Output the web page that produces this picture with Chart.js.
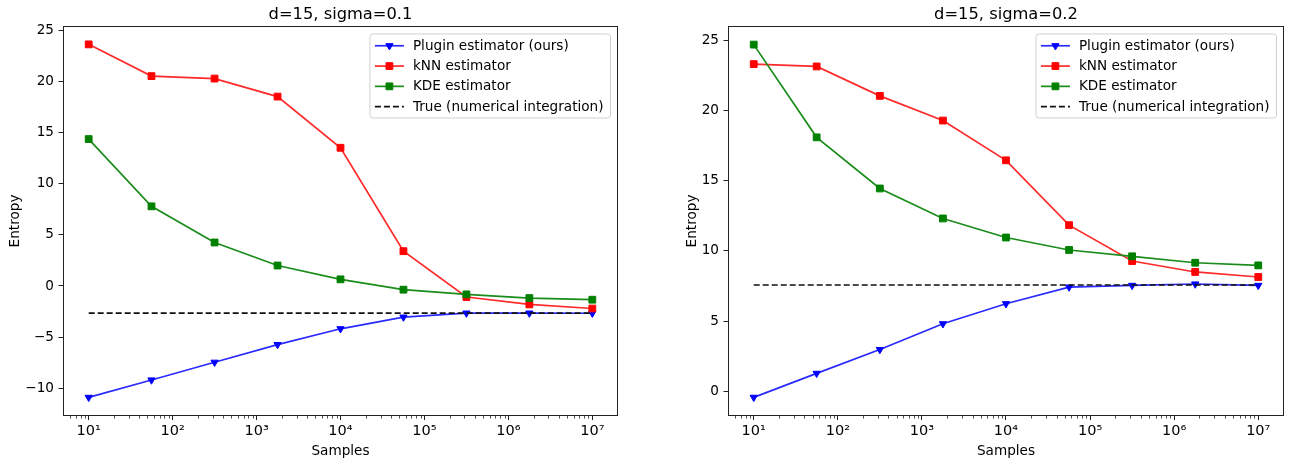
<!DOCTYPE html>
<html>
<head>
<meta charset="utf-8">
<script src="https://cdn.jsdelivr.net/npm/chart.js@4/dist/chart.umd.min.js"></script>
<style>
  body { margin: 0; background: #fff; }
  #wrap { position: relative; width: 1293px; height: 464px; }
  canvas { position: absolute; top: 0; }
</style>
</head>
<body>
<div id="wrap">
  <canvas id="chartA" width="646" height="464" style="left:0"></canvas>
  <canvas id="chartB" width="647" height="464" style="left:646px"></canvas>
</div>
<script>
// x values (logspace 10^1 .. 10^7, 9 points)
const samples = [10, 56, 316, 1778, 10000, 56234, 316228, 1778279, 10000000];
const seriesNames = ['Plugin estimator (ours)', 'kNN estimator', 'KDE estimator', 'True (numerical integration)'];

// d=15, sigma=0.1
const pluginA = [-10.88, -9.18, -7.45, -5.72, -4.18, -3.04, -2.65, -2.65, -2.66];
const knnA = [23.6, 20.5, 20.26, 18.5, 13.5, 3.4, -1.08, -1.8, -2.2];
const kdeA = [14.35, 7.78, 4.25, 2.0, 0.65, -0.36, -0.82, -1.18, -1.34];
const trueA = -2.65;

// d=15, sigma=0.2
const pluginB = [-0.45, 1.26, 2.96, 4.8, 6.23, 7.42, 7.54, 7.64, 7.54];
const knnB = [23.34, 23.17, 21.07, 19.31, 16.47, 11.84, 9.28, 8.5, 8.14];
const kdeB = [24.73, 18.11, 14.46, 12.32, 10.96, 10.07, 9.62, 9.16, 8.97];
const trueB = 7.57;

const xTicks = [1e1, 1e2, 1e3, 1e4, 1e5, 1e6, 1e7];
const xTickLabels = ['10¹', '10²', '10³', '10⁴', '10⁵', '10⁶', '10⁷'];
const yTicksA = [-10, -5, 0, 5, 10, 15, 20, 25];
const yTickLabelsA = ['−10', '−5', '0', '5', '10', '15', '20', '25'];
const yTicksB = [0, 5, 10, 15, 20, 25];
const yTickLabelsB = ['0', '5', '10', '15', '20', '25'];

const FONT = '"DejaVu Sans", sans-serif';
const FS = 13.6;

function pts(ys) {
    return ys.map((y, i) => ({ x: samples[i], y: y }));
}

function makeDatasets(plugin, knn, kde, trueVal) {
    const base = { borderWidth: 1.7, tension: 0, pointBorderWidth: 1, pointHoverRadius: 0 };
    return [
        Object.assign({}, base, {
            label: seriesNames[0], data: pts(plugin), order: 4,
            borderColor: '#2a2aff', backgroundColor: '#0000ff', pointBackgroundColor: '#0000ff',
            pointBorderColor: '#0000ff', pointStyle: 'triangle', pointRotation: 180, pointRadius: 4.2
        }),
        Object.assign({}, base, {
            label: seriesNames[1], data: pts(knn), order: 3,
            borderColor: '#ff2a2a', backgroundColor: '#ff0000', pointBackgroundColor: '#ff0000',
            pointBorderColor: '#ff0000', pointStyle: 'rect', pointRadius: 4.8
        }),
        Object.assign({}, base, {
            label: seriesNames[2], data: pts(kde), order: 2,
            borderColor: '#1a8c1a', backgroundColor: '#008000', pointBackgroundColor: '#008000',
            pointBorderColor: '#008000', pointStyle: 'rect', pointRadius: 4.8
        }),
        Object.assign({}, base, {
            label: seriesNames[3], order: 1,
            data: [{ x: samples[0], y: trueVal }, { x: samples[samples.length - 1], y: trueVal }],
            borderColor: '#111111', backgroundColor: '#111111', borderDash: [6, 3],
            pointRadius: 0
        })
    ];
}

// spines, minor log ticks and the in-axes legend
const axesExtras = {
    id: 'axesExtras',
    afterDraw(chart) {
        const ctx = chart.ctx;
        const a = chart.chartArea;
        const px = v => Math.floor(v) + 0.5;
        ctx.save();
        ctx.strokeStyle = '#222';
        ctx.lineWidth = 1;
        ctx.strokeRect(px(a.left), px(a.top), px(a.right) - px(a.left), px(a.bottom) - px(a.top));

        // minor ticks
        const xs = chart.scales.x;
        ctx.lineWidth = 0.8;
        ctx.beginPath();
        for (let n = 0; n <= 7; n++) {
            for (let k = 2; k <= 9; k++) {
                const v = k * Math.pow(10, n);
                if (v <= xs.min || v >= xs.max) continue;
                const x = Math.round(xs.getPixelForValue(v)) + 0.5;
                ctx.moveTo(x, px(a.bottom));
                ctx.lineTo(x, px(a.bottom) + 3);
            }
        }
        ctx.stroke();

        // legend
        ctx.font = FS + 'px ' + FONT;
        const sets = chart.data.datasets;
        const textW = Math.max(...sets.map(d => ctx.measureText(d.label).width));
        const boxW = 43 + textW + 7;
        const boxH = 84;
        const x0 = a.right - 7 - boxW;
        const y0 = a.top + 7;
        ctx.beginPath();
        ctx.roundRect(x0, y0, boxW, boxH, 3);
        ctx.fillStyle = 'rgba(255,255,255,0.8)';
        ctx.fill();
        ctx.strokeStyle = 'rgba(204,204,204,0.9)';
        ctx.lineWidth = 1;
        ctx.stroke();
        sets.forEach((d, i) => {
            const y = y0 + 11.8 + i * 20.3;
            ctx.beginPath();
            ctx.setLineDash(d.borderDash || []);
            ctx.strokeStyle = d.borderColor;
            ctx.lineWidth = d.borderWidth;
            ctx.moveTo(x0 + 5, y);
            ctx.lineTo(x0 + 34, y);
            ctx.stroke();
            ctx.setLineDash([]);
            if (d.pointRadius > 0) {
                ctx.fillStyle = d.pointBackgroundColor;
                ctx.strokeStyle = d.pointBorderColor;
                ctx.lineWidth = d.pointBorderWidth;
                Chart.helpers.drawPoint(ctx, {
                    pointStyle: d.pointStyle, radius: d.pointRadius,
                    rotation: d.pointRotation || 0, borderWidth: d.pointBorderWidth
                }, x0 + 19.5, y);
            }
            ctx.fillStyle = '#000';
            ctx.textBaseline = 'middle';
            ctx.textAlign = 'left';
            ctx.fillText(d.label, x0 + 43, y + 0.5);
        });
        ctx.restore();
    }
};

function makeChart(id, title, datasets, yMin, yMax, yTicks, yLabels, padLeft, yWidth, padRight) {
    return new Chart(document.getElementById(id), {
        type: 'line',
        data: { datasets: datasets },
        plugins: [axesExtras],
        options: {
            responsive: false,
            animation: false,
            devicePixelRatio: 1,
            layout: { padding: { left: padLeft, right: padRight, top: 0, bottom: 0 } },
            plugins: {
                legend: { display: false },
                tooltip: { enabled: false },
                title: {
                    display: true, text: title, fullSize: false, color: '#000',
                    font: { family: FONT, size: 16.3, weight: 'normal' },
                    padding: { top: 4.6, bottom: 2.8 }
                }
            },
            scales: {
                x: {
                    type: 'logarithmic',
                    min: 5.0119, max: 19952623,
                    afterBuildTicks: s => { s.ticks = xTicks.map(v => ({ value: v })); },
                    afterFit: s => { s.height = 49; },
                    grid: { drawOnChartArea: false, drawTicks: true, tickLength: 5, tickColor: '#222', tickWidth: 1 },
                    border: { display: false },
                    ticks: {
                        autoSkip: false, maxRotation: 0, padding: 3, color: '#000',
                        font: { family: FONT, size: 14.5 },
                        callback: (v, i) => xTickLabels[i]
                    },
                    title: {
                        display: true, text: 'Samples', color: '#000',
                        font: { family: FONT, size: FS },
                        padding: { top: 0, bottom: 4 }
                    }
                },
                y: {
                    type: 'linear',
                    min: yMin, max: yMax,
                    afterBuildTicks: s => { s.ticks = yTicks.map(v => ({ value: v })); },
                    afterFit: s => { s.width = yWidth; },
                    grid: { drawOnChartArea: false, drawTicks: true, tickLength: 5, tickColor: '#222', tickWidth: 1 },
                    border: { display: false },
                    ticks: {
                        autoSkip: false, padding: 4.5, color: '#000',
                        font: { family: FONT, size: FS },
                        callback: (v, i) => yLabels[i]
                    },
                    title: {
                        display: true, text: 'Entropy', color: '#000',
                        font: { family: FONT, size: FS },
                        padding: { top: 7, bottom: 0 }
                    }
                }
            }
        }
    });
}

makeChart('chartA', 'd=15, sigma=0.1', makeDatasets(pluginA, knnA, kdeA, trueA),
    -12.6, 25.3, yTicksA, yTickLabelsA, 0, 63.5, 28.5);
makeChart('chartB', 'd=15, sigma=0.2', makeDatasets(pluginB, knnB, kdeB, trueB),
    -1.71, 25.99, yTicksB, yTickLabelsB, 31, 51.5, 9.5);
</script>
</body>
</html>
